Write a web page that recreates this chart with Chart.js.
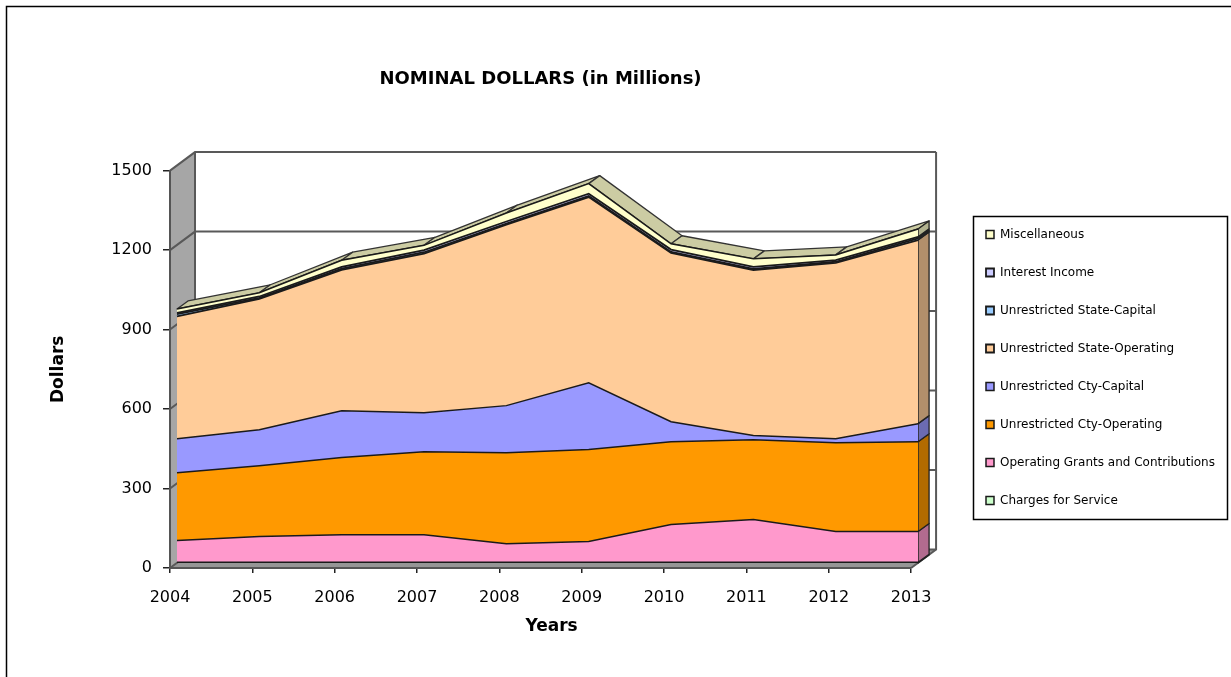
<!DOCTYPE html>
<html><head><meta charset="utf-8">
<style>html,body{margin:0;padding:0;background:#fff;overflow:hidden}canvas{display:block}</style>
<script src="https://cdn.jsdelivr.net/npm/chart.js@4"></script>
</head><body><canvas id="c" width="1231" height="677"></canvas>
<script>
const years = ['2004','2005','2006','2007','2008','2009','2010','2011','2012','2013'];
const chargesForService = [3,3,3,3,3,3,3,3,3,3];
const operatingGrants = [82,97,104,104,70,78,142,161,116,116];
const ctyOperating = [256,267,291,313,343,347,313,301,335,339];
const ctyCapital = [128,136,177,147,178,252,75,16,15,68];
const stateOperating = [462,494,531,601,683,701,637,625,664,693];
const stateCapital = [8,4,5,5,4,4,4,4,4,6];
const interestIncome = [5,5,7,8,8,9,9,8,6,6];
const miscellaneous = [15,14,25,18,32,38,22,30,20,30];

const FONT = "'DejaVu Sans',sans-serif";
const FRONT = {x: 7, y: -5};     // front plane of the area block
const DEPTH = {x: 11, y: -8};    // thickness of the area block
const BACK = {x: 25, y: -18.5};  // depth of the walls
const mk = (label, data, bg, side, w) => ({label, data, backgroundColor: bg, borderColor: '#1a1a1a', borderWidth: w,
  side, pointRadius: 0, tension: 0, clip: false});
const datasets = [
  mk('Charges for Service', chargesForService, '#CCFFCC', '#8FB28F', 1.5),
  mk('Operating Grants and Contributions', operatingGrants, '#FF99CC', '#B26B8F', 1.5),
  mk('Unrestricted Cty-Operating', ctyOperating, '#FF9900', '#B26B00', 1.5),
  mk('Unrestricted Cty-Capital', ctyCapital, '#9999FF', '#6B6BB2', 1.5),
  mk('Unrestricted State-Operating', stateOperating, '#FFCC99', '#B28F6B', 1.8),
  mk('Unrestricted State-Capital', stateCapital, '#99CCFF', '#6B8FB2', 1.8),
  mk('Interest Income', interestIncome, '#CCCCFF', '#8F8FB2', 1.8),
  mk('Miscellaneous', miscellaneous, '#FFFFCC', '#B2B28F', 1.5),
];
datasets.forEach((d,i)=>{ d.fill = i===0 ? 'origin' : '-1'; });

function poly(ctx, pts, fill, stroke, lw){
  ctx.beginPath(); pts.forEach((p,i)=> i?ctx.lineTo(p[0],p[1]):ctx.moveTo(p[0],p[1])); ctx.closePath();
  if(fill){ctx.fillStyle=fill;ctx.fill();}
  if(stroke){ctx.strokeStyle=stroke;ctx.lineWidth=lw||1;ctx.stroke();}
}
const box3d = {
  id:'box3d',
  afterLayout(chart){
    const lg = chart.legend;
    lg.left = 960; lg.right = 1227; lg.top = 115; lg.bottom = 620;
    // the "Years" caption sits a little right of the axis centre
    const xs = chart.scales.x, orig = xs.drawTitle;
    if(!xs._shifted){
      xs._shifted = true;
      xs.drawTitle = function(){
        const l=this.left, r=this.right;
        this.left=l+11; this.right=r+11; orig.call(this); this.left=l; this.right=r;
      };
    }
  },
  beforeDraw(chart){
    const {ctx, chartArea:a, scales:{y}} = chart;
    ctx.save();
    ctx.fillStyle='#fff'; ctx.fillRect(0,0,chart.width,chart.height);
    // page frame
    ctx.strokeStyle='#000'; ctx.lineWidth=1.5;
    ctx.beginPath(); ctx.moveTo(6.5,677); ctx.lineTo(6.5,6.5); ctx.lineTo(1231,6.5); ctx.stroke();
    // legend frame
    ctx.strokeRect(973.5,216.5,254,303);
    const bx=a.left+BACK.x, tx=a.right+BACK.x, b0=y.getPixelForValue(0);
    poly(ctx,[[a.left,y.top],[bx,y.top+BACK.y],[bx,b0+BACK.y],[a.left,b0]],'#A6A6A6');
    poly(ctx,[[a.left,b0],[bx,b0+BACK.y],[tx,b0+BACK.y],[a.right,b0]],'#969696');
    ctx.strokeStyle='#595959'; ctx.lineWidth=2;
    y.ticks.forEach(t=>{
      const py=y.getPixelForValue(t.value);
      ctx.beginPath(); ctx.moveTo(a.left,py); ctx.lineTo(bx,py+BACK.y); ctx.lineTo(tx,py+BACK.y); ctx.stroke();
    });
    ctx.beginPath(); ctx.moveTo(bx,y.top+BACK.y); ctx.lineTo(bx,b0+BACK.y); ctx.stroke();
    ctx.beginPath(); ctx.moveTo(tx,y.top+BACK.y); ctx.lineTo(tx,b0+BACK.y); ctx.lineTo(a.right,b0); ctx.stroke();
    ctx.restore();
  },
  beforeDatasetsDraw(chart){
    const ctx = chart.ctx, y = chart.scales.y;
    ctx.save();
    ctx.translate(FRONT.x, FRONT.y);
    const n = years.length, metas = datasets.map((_,i)=>chart.getDatasetMeta(i));
    // top surface of the whole stack
    const top = metas[metas.length-1].data;
    ctx.lineJoin='round';
    for(let i=0;i<n-1;i++){
      const p=top[i], q=top[i+1];
      poly(ctx,[[p.x,p.y],[q.x,q.y],[q.x+DEPTH.x,q.y+DEPTH.y],[p.x+DEPTH.x,p.y+DEPTH.y]],'#CCCCA3','#333',1.3);
    }
    // right-hand end faces, one per series
    metas.forEach((m,k)=>{
      const p=m.data[n-1], base = k? metas[k-1].data[n-1].y : y.getPixelForValue(0);
      poly(ctx,[[p.x,p.y],[p.x+DEPTH.x,p.y+DEPTH.y],[p.x+DEPTH.x,base+DEPTH.y],[p.x,base]],datasets[k].side,'#222',1.3);
    });
  },
  afterDatasetsDraw(chart){ chart.ctx.restore(); }
};
new Chart(document.getElementById('c'),{
  type:'line',
  data:{labels:years,datasets},
  plugins:[box3d],
  options:{
    responsive:false, animation:false,
    layout:{padding:{left:0,right:55,top:0,bottom:0}},
    plugins:{
      tooltip:{enabled:false},
      title:{display:true,text:'NOMINAL DOLLARS (in Millions)',fullSize:false,color:'#000',
        font:{family:FONT,size:18,weight:'bold'},padding:{top:69,bottom:80}},
      legend:{position:'right',reverse:true,maxWidth:270,
        labels:{boxWidth:8,boxHeight:8,padding:26,color:'#000',font:{family:FONT,size:12}}}
    },
    scales:{
      x:{type:'category',offset:false,afterFit(s){s.height=109;},
        grid:{drawOnChartArea:false,color:'#222',tickLength:5,lineWidth:1.5},
        border:{color:'#555',width:2},
        ticks:{color:'#000',font:{family:FONT,size:16},maxRotation:0,autoSkip:false,padding:15},
        title:{display:true,text:'Years',color:'#000',font:{family:FONT,size:17,weight:'bold'},padding:{top:2,bottom:40}}},
      y:{stacked:true,min:0,max:1500,afterFit(s){s.width=170;},
        grid:{drawOnChartArea:false,color:'#222',tickLength:7,lineWidth:1.5},
        border:{color:'#555',width:2},
        ticks:{stepSize:300,color:'#000',font:{family:FONT,size:16},padding:11,callback:v=>String(v)},
        title:{display:true,text:'Dollars',color:'#000',font:{family:FONT,size:17,weight:'bold'},padding:{top:48,bottom:0}}}
    }
  }
});
</script></body></html>
